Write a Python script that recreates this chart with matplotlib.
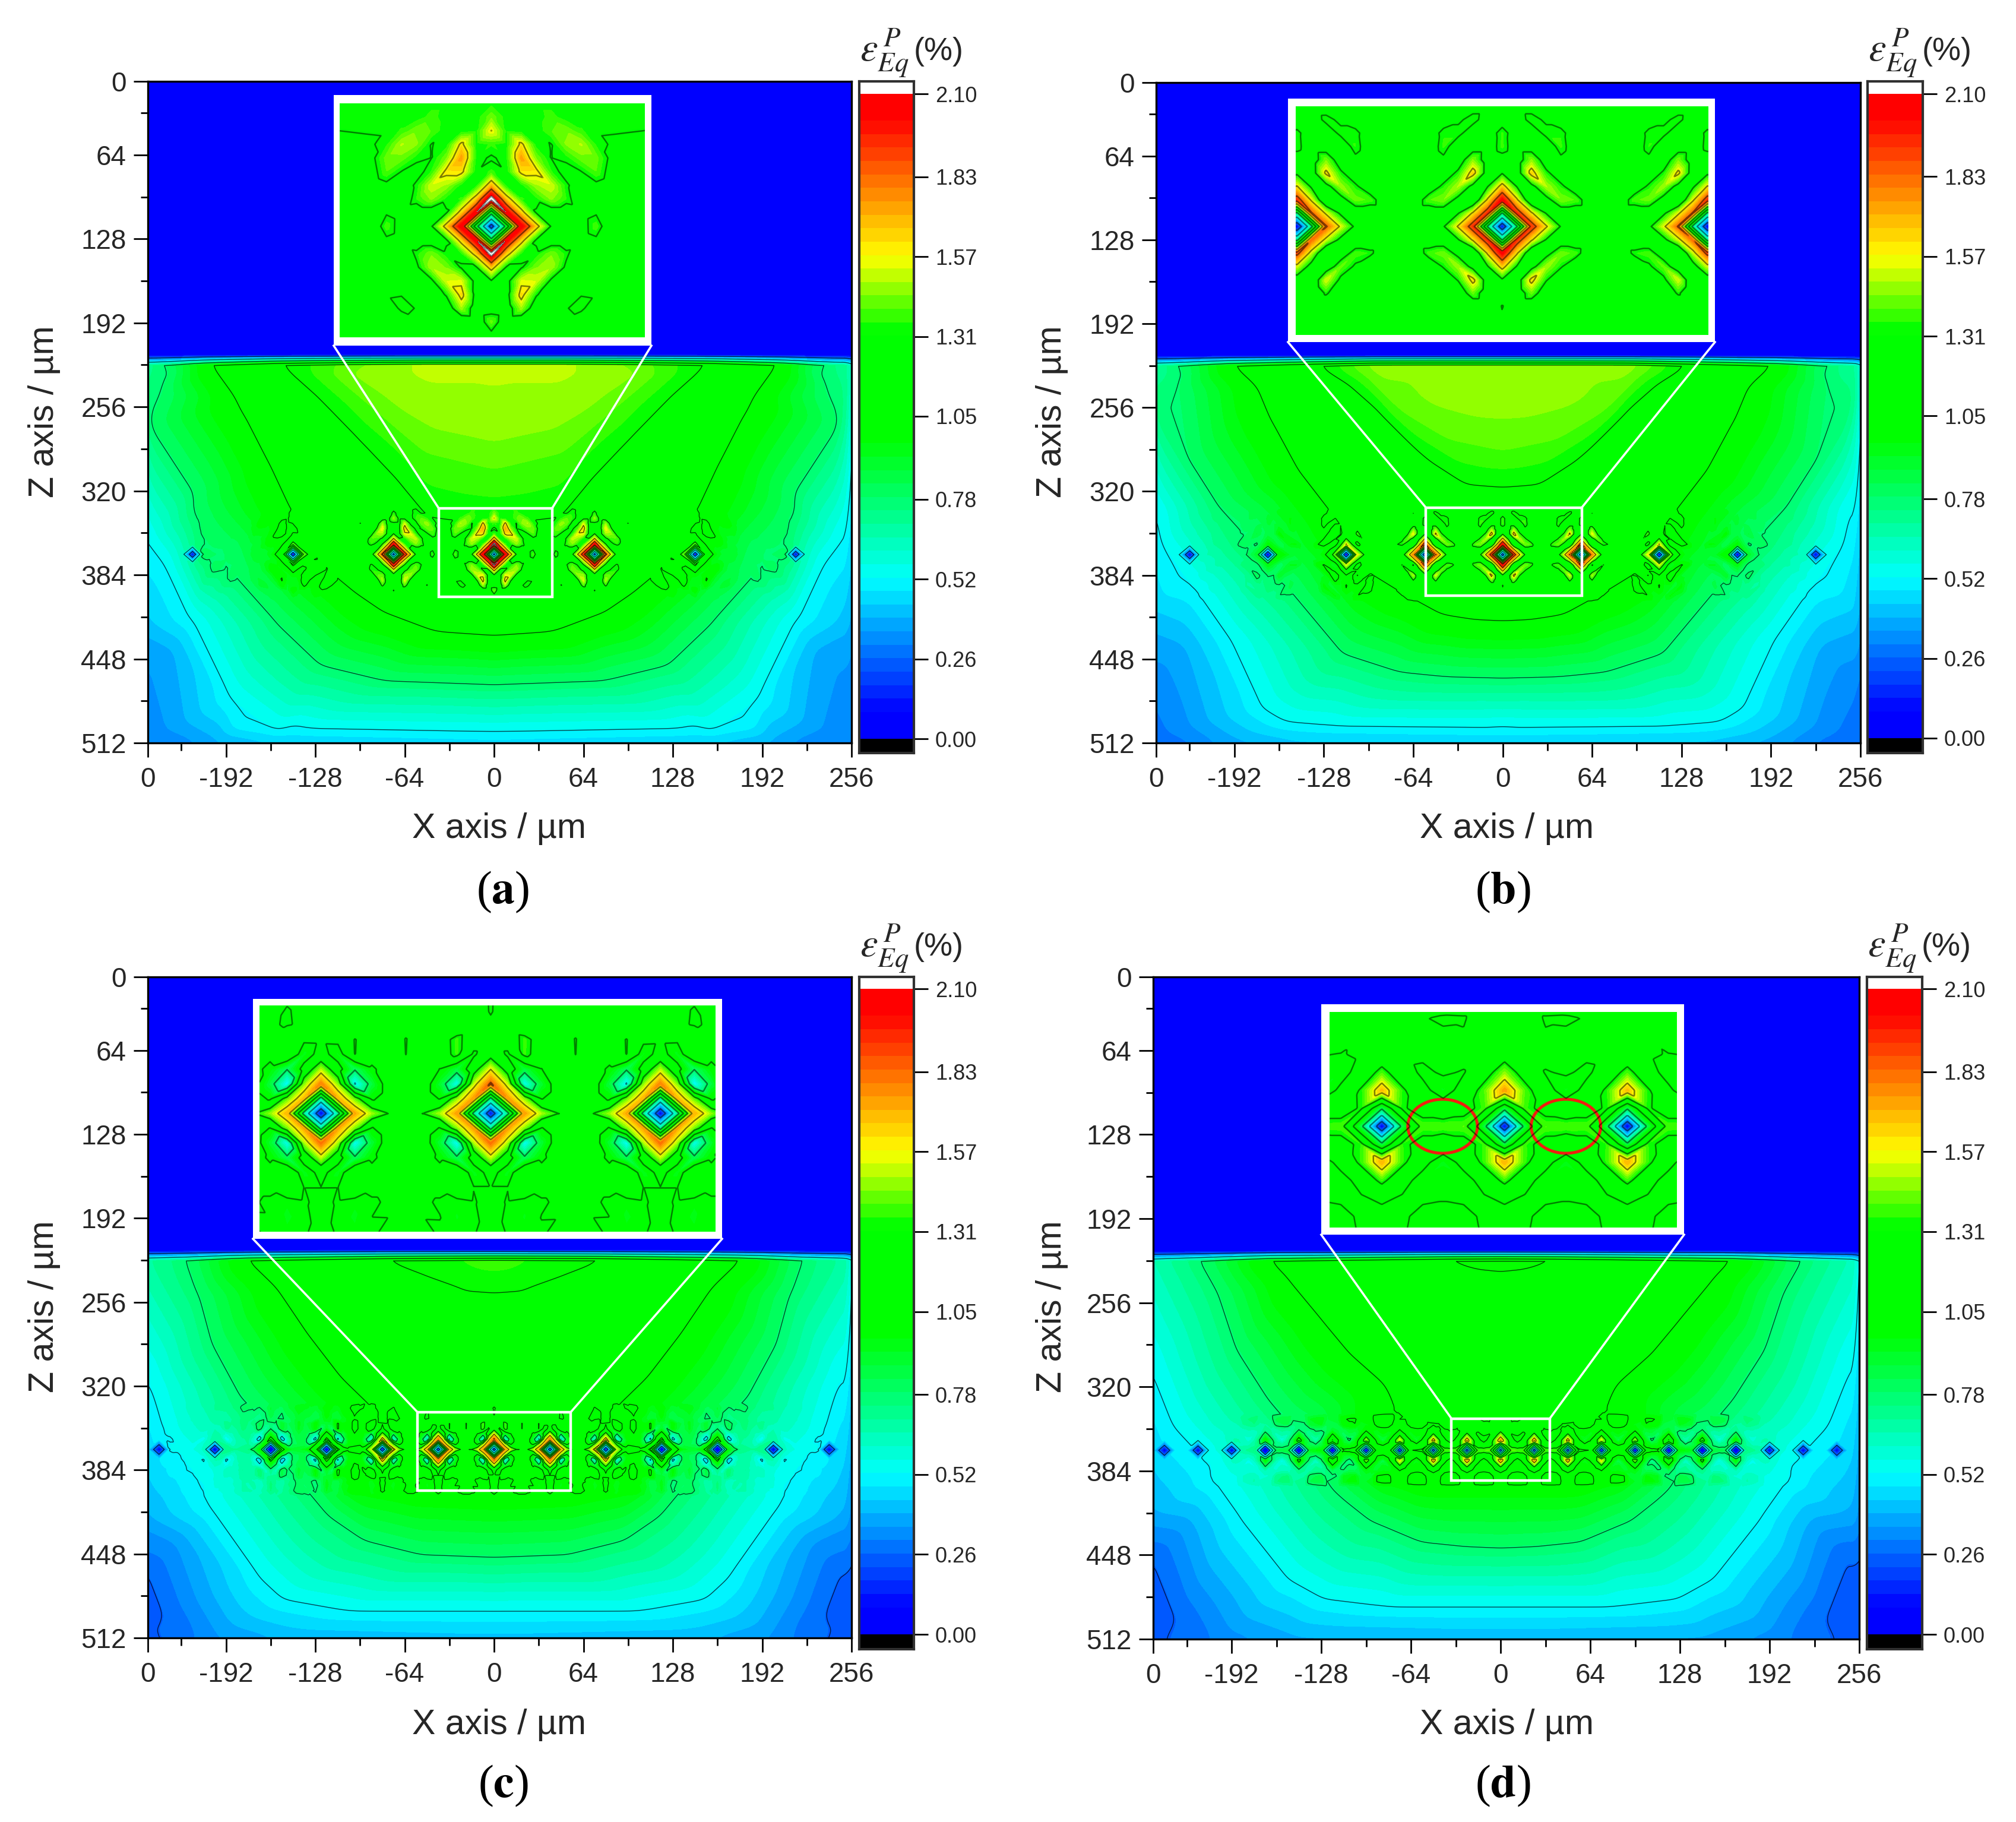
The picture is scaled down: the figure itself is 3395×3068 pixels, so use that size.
import numpy as np
import matplotlib
matplotlib.use('Agg')
import matplotlib.pyplot as plt
import matplotlib.tri as mtri
from matplotlib.colors import LinearSegmentedColormap, Normalize
from matplotlib.patches import Rectangle, Ellipse

plt.rcParams['font.family'] = ['Liberation Sans', 'DejaVu Sans']
plt.rcParams['mathtext.fontset'] = 'stix'

W, H = 3395, 3068

# tick labels
x_ticks = [-248, -192, -128, -64, 0, 64, 128, 192, 256]
x_labels = ['0', '-192', '-128', '-64', '0', '64', '128', '192', '256']
x_minor = [-224, -160, -96, -32, 32, 96, 160, 224]
z_ticks = [8, 64, 128, 192, 256, 320, 384, 448, 512]
z_labels = ['0', '64', '128', '192', '256', '320', '384', '448', '512']
z_minor = [32, 96, 160, 224, 288, 352, 416, 480]
cbar_ticks = [2.10, 1.83, 1.57, 1.31, 1.05, 0.78, 0.52, 0.26, 0.00]

# contour lines: half width |x| and depth z of each level
a_x146 = [100, 75, 40, 0]
a_z146 = [222, 240, 262, 271]
a_x140 = [120, 90, 50, 0]
a_z140 = [222, 250, 287, 300]
a_x131 = [152, 124, 97, 69, 46, 0]
a_z131 = [220, 247, 277, 309, 339, 345]
a_x105 = [202, 184, 179, 161, 145, 120, 101, 78, 41, 0]
a_z105 = [220, 247, 258, 296, 333, 378, 395, 412, 427, 430]
a_x078 = [230, 238, 248, 216, 216, 191, 205, 184, 156, 124, 78, 0]
a_z078 = [221, 240, 265, 318, 333, 363, 374, 385, 419, 452, 464, 467]
a_x052 = [248, 234, 216, 189, 182, 156, 0]
a_z052 = [355, 375, 417, 477, 497, 503, 503]
a_xs = [0, 50, 0, 40, 70, 0, 258, 258, 258, 258, 0, 150, 200, 220, 230, 230]
a_zs = [220, 220, 358, 358, 366, 385, 219, 420, 470, 512, 512, 512, 512, 512, 440, 500]
a_vs = [1.50, 1.50, 1.2, 1.2, 1.2, 1.2, 0.70, 0.40, 0.32, 0.30, 0.46, 0.44, 0.38, 0.33, 0.39, 0.36]

b_x146 = [94, 50, 20, 0]
b_z146 = [220, 241, 250, 251]
b_x140 = [108, 77, 40, 0]
b_z140 = [221, 253, 277, 286]
b_x131 = [130, 108, 87, 54, 24, 0]
b_z131 = [220, 235, 255, 291, 312, 314]
b_x105 = [192, 175, 165, 145, 118, 98, 71, 44, 20, 0]
b_z105 = [220, 237, 263, 303, 341, 379, 397, 413, 417, 418]
b_x078 = [227, 232, 248, 225, 205, 183, 188, 167, 151, 114, 74, 37, 0]
b_z078 = [221, 236, 251, 293, 327, 345, 357, 379, 395, 443, 457, 461, 462]
b_x052 = [248, 244, 232, 235, 222, 195, 172, 155, 121, 0]
b_z052 = [331, 357, 373, 387, 389, 431, 485, 496, 499, 499]
b_xs = [0, 60, 0, 60, 0, 258, 258, 258, 258, 0, 150, 200, 225, 230, 230]
b_zs = [220, 220, 345, 345, 380, 219, 420, 470, 512, 512, 512, 512, 512, 440, 500]
b_vs = [1.47, 1.47, 1.2, 1.2, 1.2, 0.68, 0.40, 0.30, 0.26, 0.44, 0.42, 0.36, 0.30, 0.38, 0.33]

c_x131 = [77, 50, 24, 0]
c_z131 = [220, 231, 241, 243]
c_x105 = [177, 155, 135, 108, 87, 96, 60, 0]
c_z105 = [220, 243, 275, 313, 335, 385, 392, 395]
c_x078 = [220, 212, 202, 182, 160, 151, 138, 118, 91, 50, 0]
c_z078 = [220, 245, 285, 325, 349, 375, 391, 417, 437, 448, 450]
c_x052 = [247, 235, 224, 225, 217, 202, 168, 151, 104, 0]
c_z052 = [313, 357, 369, 375, 381, 413, 465, 482, 491, 491]
c_x026 = [247, 237, 246]
c_z026 = [463, 491, 511]
c_xs = [0, 0, 60, 258, 258, 258, 258, 0, 150, 200, 225, 230]
c_zs = [220, 372, 372, 219, 420, 470, 512, 512, 512, 512, 512, 440]
c_vs = [1.38, 1.2, 1.2, 0.66, 0.36, 0.24, 0.22, 0.42, 0.40, 0.34, 0.28, 0.34]

d_x131 = [37, 17, 0]
d_z131 = [220, 225, 226]
d_x105 = [165, 151, 128, 108, 84, 69, 54, 64, 85, 80, 60, 0]
d_z105 = [220, 236, 266, 292, 315, 331, 337, 351, 360, 378, 384, 384]
d_x078 = [214, 202, 188, 165, 154, 144, 121, 112, 91, 56, 20, 0]
d_z078 = [220, 243, 289, 328, 342, 348, 394, 403, 421, 437, 441, 442]
d_x052 = [250, 234, 222, 209, 205, 186, 151, 126, 80, 0]
d_z052 = [302, 346, 360, 375, 389, 418, 466, 481, 487, 487]
d_x026 = [248, 232, 241]
d_z026 = [449, 493, 512]
d_xs = [0, 0, 50, 258, 258, 258, 258, 0, 150, 200, 225, 230]
d_zs = [220, 372, 372, 219, 420, 470, 512, 512, 512, 512, 512, 430]
d_vs = [1.35, 1.2, 1.2, 0.62, 0.36, 0.24, 0.22, 0.40, 0.38, 0.32, 0.27, 0.34]

# strain around the central pore, rows are |dz|, columns are |dx| (both um)
cell_dz = [0, 4, 8, 12, 16, 20, 24, 28, 32, 36]
a_dx = [0, 4, 8, 12, 16, 20, 24, 28, 32, 36]
a_cell = [[0.15, 0.85, 2.10, 1.65, 1.30, 1.20, 1.25, 1.40, 1.20, 1.20],
          [0.85, 2.10, 1.65, 1.30, 1.22, 1.22, 1.25, 1.30, 1.20, 1.20],
          [2.20, 1.65, 1.35, 1.33, 1.45, 1.35, 1.20, 1.20, 1.20, 1.20],
          [1.65, 1.30, 1.30, 1.45, 1.50, 1.30, 1.20, 1.25, 1.20, 1.20],
          [1.30, 1.25, 1.55, 1.55, 1.30, 1.20, 1.25, 1.35, 1.20, 1.20],
          [1.20, 1.25, 1.65, 1.35, 1.22, 1.25, 1.35, 1.35, 1.20, 1.20],
          [1.25, 1.22, 1.50, 1.22, 1.20, 1.35, 1.40, 1.25, 1.20, 1.20],
          [1.45, 1.22, 1.20, 1.20, 1.28, 1.32, 1.25, 1.20, 1.20, 1.20],
          [1.30, 1.20, 1.20, 1.20, 1.25, 1.20, 1.20, 1.20, 1.20, 1.20],
          [1.20, 1.20, 1.20, 1.20, 1.20, 1.20, 1.20, 1.20, 1.20, 1.20]]
b_dx = [0, 4, 8, 12, 16, 20, 24, 28]
b_cell = [[0.10, 0.75, 1.95, 1.60, 1.30, 1.20, 1.20, 1.20],
          [0.75, 1.95, 1.60, 1.30, 1.20, 1.20, 1.20, 1.20],
          [2.05, 1.60, 1.10, 1.25, 1.45, 1.40, 1.20, 1.20],
          [1.65, 1.30, 1.25, 1.50, 1.35, 1.20, 1.20, 1.20],
          [1.30, 1.20, 1.65, 1.35, 1.20, 1.20, 1.20, 1.20],
          [1.25, 1.20, 1.45, 1.20, 1.28, 1.20, 1.20, 1.20],
          [1.36, 1.20, 1.20, 1.20, 1.36, 1.20, 1.20, 1.20],
          [1.34, 1.20, 1.20, 1.33, 1.33, 1.20, 1.20, 1.20],
          [1.20, 1.20, 1.32, 1.25, 1.20, 1.20, 1.20, 1.20],
          [1.20, 1.20, 1.20, 1.20, 1.20, 1.20, 1.20, 1.20]]
c_dx = [0, 4, 8, 12, 16, 20, 24]
c_cell = [[0.10, 0.70, 1.75, 1.50, 1.33, 1.33, 1.20],
          [0.70, 1.75, 1.45, 1.05, 1.20, 1.20, 1.20],
          [1.85, 1.50, 0.55, 0.90, 1.20, 1.20, 1.20],
          [1.55, 1.20, 0.85, 1.05, 1.20, 1.25, 1.20],
          [1.20, 1.00, 1.36, 1.20, 1.20, 1.33, 1.20],
          [1.15, 1.15, 1.36, 1.20, 1.20, 1.33, 1.20],
          [1.25, 1.15, 1.10, 1.15, 1.20, 1.25, 1.20],
          [1.30, 1.15, 1.10, 1.20, 1.20, 1.28, 1.20],
          [1.30, 1.20, 1.15, 1.20, 1.25, 1.30, 1.20],
          [1.20, 1.20, 1.20, 1.20, 1.20, 1.20, 1.20]]
d_dx = [0, 4, 8, 12, 16]
d_cell = [[0.08, 0.85, 1.42, 1.42, 1.20],
          [0.85, 1.38, 1.25, 1.20, 1.20],
          [1.75, 1.40, 1.15, 0.98, 1.20],
          [1.45, 1.20, 1.05, 1.10, 1.20],
          [1.20, 1.15, 1.12, 1.15, 1.20],
          [1.15, 1.15, 1.30, 1.30, 1.20],
          [1.20, 1.20, 1.33, 1.35, 1.20],
          [1.20, 1.20, 1.20, 1.20, 1.20],
          [1.20, 1.20, 1.20, 1.20, 1.20],
          [1.20, 1.20, 1.20, 1.20, 1.20]]

# pore positions and how strong the ring around each one is
a_pores = [0, 72, 144, 216]
a_ring = [1, 0.85, 0.4, 0]
b_pores = [0, 56, 112, 168, 224]
b_ring = [1, 0.9, 0.65, 0.2, 0]
c_pores = [0, 40, 80, 120, 160, 200, 240]
c_ring = [1, 1, 0.85, 0.7, 0.55, 0.1, 0]
d_pores = [0, 24, 48, 72, 96, 120, 144, 168, 192, 216, 240]
d_ring = [1, 1, 0.95, 0.9, 0.85, 0.8, 0.7, 0.6, 0.05, 0, 0]

# bare pore far from the centre: fraction of the local strain left at L1 distance
hole_r = [0, 4, 8]
hole_frac = [0.12, 0.55, 1.0]

pore_z = 366
plateau = 1.2
surface_z = [211, 220]

levels = np.linspace(0, 2.1, 49)
line_levels = [0.26, 0.52, 0.78, 1.05, 1.31, 1.57, 1.83, 2.10]

nodes = [(0, '#0000ff'), (0.09, '#0000ff'), (0.52, '#00ffff'), (0.975, '#00ff00'),
         (1.33, '#00ff00'), (1.57, '#ffff00'), (2.02, '#ff0000'), (2.1, '#ff0000')]
cmap = LinearSegmentedColormap.from_list('strain', [(v / 2.1, c) for v, c in nodes], N=512)
cmap.set_over('white')
cmap.set_under('black')
norm = Normalize(0, 2.1)
TEXT = '#262626'

grid_x = np.arange(0, 261.0)
grid_z = np.arange(220, 513.0)


def box_blur(a, n):
    k = np.ones(n) / n
    pad = n // 2
    a = np.pad(a, ((pad, pad), (0, 0)), mode='edge')
    a = np.apply_along_axis(lambda v: np.convolve(v, k, mode='valid'), 0, a)
    a = np.pad(a, ((0, 0), (pad, 0)), mode='reflect')
    a = np.pad(a, ((0, 0), (0, pad)), mode='edge')
    return np.apply_along_axis(lambda v: np.convolve(v, k, mode='valid'), 1, a)


def make_base(iso, xs, zs, vs):
    px, pz, pv = list(xs), list(zs), list(vs)
    for lev, ix, iz in iso:
        px += ix
        pz += iz
        pv += [lev] * len(ix)
    tri = mtri.Triangulation(np.array(px, float), np.array(pz, float))
    interp = mtri.LinearTriInterpolator(tri, np.array(pv, float))
    gx, gz = np.meshgrid(grid_x, grid_z)
    g = np.ma.filled(interp(gx, gz), np.nan)
    g = np.where(np.isnan(g), np.nanmin(g), g)
    return box_blur(box_blur(g, 9), 9)


def bilinear(xs, ys, table, qx, qy):
    table = np.array(table)
    ix = np.interp(qx, xs, np.arange(len(xs)))
    iy = np.interp(qy, ys, np.arange(len(ys)))
    i0 = np.minimum(ix.astype(int), len(xs) - 2)
    j0 = np.minimum(iy.astype(int), len(ys) - 2)
    fx = ix - i0
    fy = iy - j0
    return (table[j0, i0] * (1 - fx) * (1 - fy) + table[j0, i0 + 1] * fx * (1 - fy)
            + table[j0 + 1, i0] * (1 - fx) * fy + table[j0 + 1, i0 + 1] * fx * fy)


def tri_lookup(xs, ys, table, qx, qy):
    # split each grid square along the anti-diagonal so the pore rings stay straight diamonds
    table = np.array(table)
    ix = np.interp(qx, xs, np.arange(len(xs)))
    iy = np.interp(qy, ys, np.arange(len(ys)))
    i0 = np.minimum(ix.astype(int), len(xs) - 2)
    j0 = np.minimum(iy.astype(int), len(ys) - 2)
    fx = ix - i0
    fy = iy - j0
    t00, t10 = table[j0, i0], table[j0, i0 + 1]
    t01, t11 = table[j0 + 1, i0], table[j0 + 1, i0 + 1]
    lower = t00 + fx * (t10 - t00) + fy * (t01 - t00)
    upper = t11 + (1 - fx) * (t01 - t11) + (1 - fy) * (t10 - t11)
    return np.where(fx + fy <= 1, lower, upper)


def field(p, xv, zv):
    X, Z = np.meshgrid(xv, zv)
    base = bilinear(grid_x, grid_z, p['base'], np.abs(X), np.maximum(Z, 220))
    pores = np.array(p['pores'], float)
    step = pores[1]
    idx = np.clip(np.round(np.abs(X) / step).astype(int), 0, len(pores) - 1)
    dx = np.abs(np.abs(X) - pores[idx])
    dz = np.abs(Z - pore_z)
    dev = tri_lookup(p['dx'], cell_dz, p['cell'], dx, dz) - plateau
    ring = np.interp(np.abs(X), pores, p['ring'])
    hole = base * np.interp(dx + dz, hole_r, hole_frac)
    F = ring * (base + dev) + (1 - ring) * hole
    F = np.maximum(F, 0.05)
    # nothing above the surface of the sample
    top = np.interp(Z, surface_z, [0, 1])
    return np.maximum(F * top, 0.02)


def px_axes(fig, l, t, r, b, **kw):
    return fig.add_axes([l / W, 1 - b / H, (r - l) / W, (b - t) / H], **kw)


def z_pos(v):
    # the frame runs from the "0" tick (really 8) to 512, depths above were read as 0-512 over the frame
    return (np.array(v, float) - 8) * 512 / 504


panels = [
    dict(name='a', base=make_base([(1.46, a_x146, a_z146), (1.40, a_x140, a_z140), (1.31, a_x131, a_z131),
                                   (1.05, a_x105, a_z105), (0.78, a_x078, a_z078),
                                   (0.52, a_x052, a_z052)], a_xs, a_zs, a_vs),
         pores=a_pores, ring=a_ring, dx=a_dx, cell=a_cell,
         box=(249, 137, 1434, 1251), bar=(1447, 137, 1539, 1268), bar_ends=(158, 1244),
         inner=(572, 174, 1086, 568), outer=(562, 160, 1097, 582),
         lim=(-40.5, 41, 330, 398.5), src=(-39.6, 41.5, 330.5, 399),
         xlabel=(840, 1396), zlabel=(74, 693), tag=(847, 1502)),
    dict(name='b', base=make_base([(1.46, b_x146, b_z146), (1.40, b_x140, b_z140), (1.31, b_x131, b_z131),
                                   (1.05, b_x105, b_z105), (0.78, b_x078, b_z078),
                                   (0.52, b_x052, b_z052)], b_xs, b_zs, b_vs),
         pores=b_pores, ring=b_ring, dx=b_dx, cell=b_cell,
         box=(1947, 139, 3133, 1251), bar=(3145, 137, 3238, 1268), bar_ends=(158, 1243),
         inner=(2182, 179, 2877, 564), outer=(2169, 166, 2888, 576),
         lim=(-56.3, 56.2, 330, 398.5), src=(-55, 56.6, 329.5, 398),
         xlabel=(2537, 1396), zlabel=(1771, 693), tag=(2531, 1502)),
    dict(name='c', base=make_base([(1.31, c_x131, c_z131), (1.05, c_x105, c_z105), (0.78, c_x078, c_z078),
                                   (0.52, c_x052, c_z052), (0.26, c_x026, c_z026)], c_xs, c_zs, c_vs),
         pores=c_pores, ring=c_ring, dx=c_dx, cell=c_cell,
         box=(249, 1645, 1434, 2758), bar=(1447, 1645, 1539, 2777), bar_ends=(1665, 2752),
         inner=(437, 1693, 1205, 2074), outer=(426, 1682, 1216, 2086),
         lim=(-54.5, 53, 336.8, 398), src=(-55, 55, 337, 398),
         xlabel=(840, 2905), zlabel=(74, 2200), tag=(847, 3007)),
    dict(name='d', base=make_base([(1.31, d_x131, d_z131), (1.05, d_x105, d_z105), (0.78, d_x078, d_z078),
                                   (0.52, d_x052, d_z052), (0.26, d_x026, d_z026)], d_xs, d_zs, d_vs),
         pores=d_pores, ring=d_ring, dx=d_dx, cell=d_cell,
         box=(1942, 1645, 3131, 2760), bar=(3144, 1645, 3237, 2777), bar_ends=(1665, 2752),
         inner=(2239, 1704, 2824, 2067), outer=(2225, 1691, 2836, 2079),
         lim=(-34.2, 33.7, 340.6, 388.5), src=(-35, 35, 341.6, 389.5),
         xlabel=(2537, 2905), zlabel=(1771, 2200), tag=(2531, 3007)),
]

fig = plt.figure(figsize=(W / 100, H / 100), dpi=100, facecolor='white')

# overlay in pixel coordinates for the white zoom frames
over = fig.add_axes([0, 0, 1, 1], zorder=5)
over.set_xlim(0, W)
over.set_ylim(H, 0)
over.axis('off')

for p in panels:
    l, t, r, b = p['box']
    ax = px_axes(fig, l, t, r, b)
    xv = np.arange(-248, 256.5, 1.0)
    zv = np.arange(0, 512.5, 1.0)
    F = field(p, xv, zv)
    ax.contourf(xv, zv, F, levels=levels, cmap=cmap, norm=norm, extend='both')
    ax.contour(xv, zv, F, levels=line_levels, colors='black', linewidths=1.0, alpha=0.7)
    ax.set_xlim(-248, 256)
    ax.set_ylim(512, 0)
    ax.set_xticks(x_ticks)
    ax.set_xticklabels(x_labels)
    ax.set_xticks(x_minor, minor=True)
    ax.set_yticks(z_pos(z_ticks))
    ax.set_yticklabels(z_labels)
    ax.set_yticks(z_pos(z_minor), minor=True)
    ax.tick_params(which='major', length=17, width=2.0, labelsize=33, labelcolor=TEXT, pad=9)
    ax.tick_params(axis='x', which='major', pad=12)
    ax.tick_params(which='minor', length=9, width=2.0)
    for s in ax.spines.values():
        s.set_linewidth(2.4)

    fig.text(p['xlabel'][0] / W, 1 - p['xlabel'][1] / H, 'X axis / µm', fontsize=42.5, color=TEXT,
             ha='center', va='center')
    fig.text(p['zlabel'][0] / W, 1 - p['zlabel'][1] / H, 'Z axis / µm', fontsize=42.5, color=TEXT,
             ha='center', va='center', rotation=90)
    fig.text(p['tag'][0] / W, 1 - p['tag'][1] / H, r'($\mathbf{%s}$)' % p['name'], fontsize=56,
             family='Liberation Serif', color='black', ha='center', va='center')

    # colour bar
    bl, bt, br, bb = p['bar']
    cax = px_axes(fig, bl, bt, br, bb)
    y_top, y_bot = p['bar_ends']
    per_unit = (y_bot - y_top) / 2.1
    cax.set_ylim(-(bb - y_bot) / per_unit, 2.1 + (y_top - bt) / per_unit)
    cax.set_xlim(0, 1)
    mids = (levels[:-1] + levels[1:]) / 2
    cax.pcolormesh([0, 1], levels, mids.reshape(-1, 1), cmap=cmap, norm=norm)
    cax.axhspan(cax.get_ylim()[0], 0, color='black', lw=0)
    cax.set_xticks([])
    cax.yaxis.tick_right()
    cax.set_yticks(cbar_ticks)
    cax.set_yticklabels(['%.2f' % v for v in cbar_ticks])
    cax.tick_params(length=17, width=2.0, labelsize=26, labelcolor=TEXT, pad=9)
    for s in cax.spines.values():
        s.set_linewidth(3.0)
        s.set_color('#303030')
    fig.text((bl + 84) / W, 1 - (bt - 48) / H, r'$\varepsilon^{\,P}_{Eq}$', fontsize=48,
             color=TEXT, ha='right', va='center', math_fontfamily='stix')
    fig.text((bl + 92) / W, 1 - (bt - 50) / H, '(%)', fontsize=39, color=TEXT, ha='left', va='center')

    # zoom frame on the main plot and the connector lines
    ol, ot, orr, ob = p['outer']
    s0, s1, z0, z1 = p['src']
    sx0 = l + (s0 + 248) / 504 * (r - l)
    sx1 = l + (s1 + 248) / 504 * (r - l)
    sy0 = t + z0 / 512 * (b - t)
    sy1 = t + z1 / 512 * (b - t)
    over.add_patch(Rectangle((sx0, sy0), sx1 - sx0, sy1 - sy0, fill=False, ec='white', lw=3.2))
    over.plot([ol, sx0], [ob, sy0], color='white', lw=2.6)
    over.plot([orr, sx1], [ob, sy0], color='white', lw=2.6)
    over.add_patch(Rectangle((ol, ot), orr - ol, ob - ot, fc='white', ec='none'))

    # zoomed view
    il, it, ir, ib = p['inner']
    ins = px_axes(fig, il, it, ir, ib, zorder=6)
    x0, x1, zt, zb = p['lim']
    xi = np.arange(x0, x1 + 0.25, 0.25)
    zi = np.arange(zt, zb + 0.25, 0.25)
    Fi = field(p, xi, zi)
    ins.contourf(xi, zi, Fi, levels=levels, cmap=cmap, norm=norm, extend='both')
    ins.contour(xi, zi, Fi, levels=line_levels, colors='black', linewidths=1.8, alpha=0.5)
    ins.set_xlim(x0, x1)
    ins.set_ylim(zb, zt)
    ins.axis('off')
    if p['name'] == 'd':
        for cx in [-12.1, 12.0]:
            ins.add_patch(Ellipse((cx, pore_z), 13.6, 12.0, fill=False, ec='#f01e0f', lw=3.6))

fig.savefig('out.png', dpi=100, facecolor='white')
